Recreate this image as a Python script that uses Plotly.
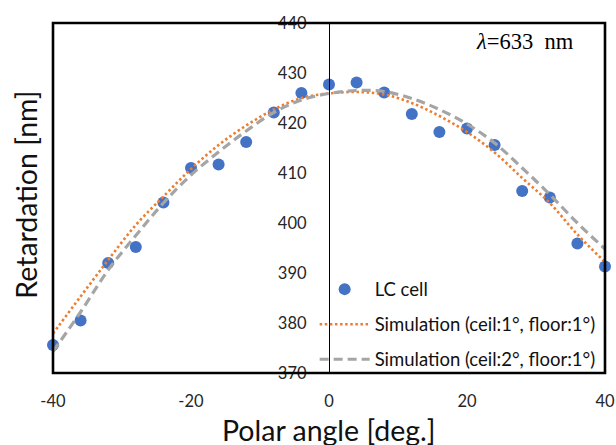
import plotly.graph_objects as go

# Measured data (LC cell)
angle = [-40, -36, -32, -28, -24, -20, -16, -12, -8, -4, 0, 4, 8, 12, 16, 20, 24, 28, 32, 36, 40]
retard_lc = [375.6, 380.5, 392.0, 395.2, 404.1, 411.0, 411.7, 416.2, 422.1, 426.0, 427.7,
             428.1, 426.1, 421.8, 418.2, 418.9, 415.6, 406.4, 405.1, 395.9, 391.3]

# Simulation curves
sim_angle = [-40, -36, -32, -28, -24, -20, -16, -12, -8, -4, 0, 4, 8, 12, 16, 20, 24, 28, 32, 36, 40]
sim_c1f1 = [377.9, 385.3, 392.6, 399.6, 405.3, 410.8, 415.6, 419.5, 422.7, 425.0, 425.9,
            426.2, 425.7, 424.0, 421.4, 418.2, 414.1, 409.0, 404.0, 397.7, 392.2]
sim_c2f1 = [374.3, 382.2, 390.6, 397.5, 404.0, 409.6, 414.2, 418.4, 422.1, 424.6, 425.9,
            426.5, 426.3, 424.9, 422.7, 419.8, 416.0, 411.0, 405.7, 400.0, 394.8]

names = ["LC cell", "Simulation (ceil:1°, floor:1°)", "Simulation (ceil:2°, floor:1°)"]
x_ticks = [-40, -20, 0, 20, 40]
x_tick_labels = ["-40", "-20", "0", "20", "40"]
y_ticks = [370, 380, 390, 400, 410, 420, 430, 440]

fig = go.Figure()
fig.add_trace(go.Scatter(x=angle, y=retard_lc, mode="markers", name=names[0],
                         legendgroup="a", cliponaxis=False,
                         marker=dict(color="#4472C4", size=12)))
fig.add_trace(go.Scatter(x=sim_angle, y=sim_c1f1, mode="lines", name=names[1],
                         legendgroup="b", line_shape="spline", cliponaxis=False,
                         line=dict(color="#ED7D31", width=2.6, dash="2.5px,2.6px")))
fig.add_trace(go.Scatter(x=sim_angle, y=sim_c2f1, mode="lines", name=names[2],
                         legendgroup="c", line_shape="spline", cliponaxis=False,
                         line=dict(color="#A5A5A5", width=3.2, dash="9px,5px")))

tick_font = dict(family="Lato", size=16.5, color="#262626")

fig.update_layout(
    width=616, height=445,
    margin=dict(l=53, r=11, t=23, b=72, autoexpand=False),
    paper_bgcolor="white", plot_bgcolor="white",
    showlegend=True,
    legend=dict(x=0.474, y=-0.016, xanchor="left", yanchor="bottom",
                font=dict(family="Lato", size=18.5, color="#111111"),
                bgcolor="rgba(0,0,0,0)", tracegroupgap=8, itemwidth=50),
    xaxis=dict(range=[-40, 40], tickvals=x_ticks, ticktext=x_tick_labels,
               showgrid=False, zeroline=False, automargin=False,
               showline=False, ticks="", tickfont=tick_font, ticklabelstandoff=16),
    yaxis=dict(range=[370, 440], tickvals=y_ticks, showgrid=False, zeroline=False,
               showline=True, linecolor="black", linewidth=1.3, automargin=False,
               anchor="free", position=0.5, ticks="", tickfont=tick_font,
               ticklabelstandoff=19),
    shapes=[dict(type="rect", xref="paper", yref="paper", x0=0, x1=1, y0=0, y1=1,
                 line=dict(color="black", width=2.6), fillcolor="rgba(0,0,0,0)",
                 layer="above")],
    annotations=[
        dict(text="Polar angle [deg.]", xref="paper", yref="paper", x=0.499, y=-0.163,
             xanchor="center", yanchor="middle", showarrow=False,
             font=dict(family="Lato", size=28.5, color="#111111")),
        dict(text="Retardation [nm]", xref="paper", yref="paper", x=-0.048, y=0.508,
             xanchor="center", yanchor="middle", showarrow=False, textangle=-90,
             font=dict(family="Lato", size=28.5, color="#111111")),
        dict(text="<i>λ</i>=633  nm", xref="paper", yref="paper", x=0.948, y=0.946,
             xanchor="right", yanchor="middle", showarrow=False,
             font=dict(family="Liberation Serif", size=22.5, color="black")),
    ],
)

fig.write_html("out.html", config={"displayModeBar": False},
               post_script="document.body.style.margin='0px';")
